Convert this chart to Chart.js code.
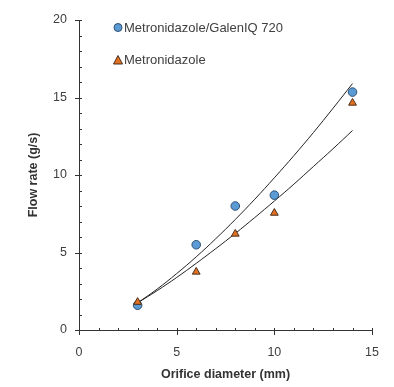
<!DOCTYPE html>
<html>
<head>
<meta charset="utf-8">
<script src="https://cdn.jsdelivr.net/npm/chart.js@4/dist/chart.umd.min.js"></script>
<style>
html,body{margin:0;padding:0;background:#fff;}
#wrap{width:394px;height:387px;position:relative;}
</style>
</head>
<body>
<div id="wrap"><canvas id="c" width="394" height="387"></canvas></div>
<script>
// Measured data
const diameters = [3, 6, 8, 10, 14];
const galenFlow = [1.6, 5.5, 8.0, 8.7, 15.35];
const metroFlow = [1.8, 3.75, 6.2, 7.55, 14.65];
// Fitted trend curves
const fitX = [3, 4, 5, 6, 7, 8, 9, 10, 11, 12, 13, 14];
const galenFit = [1.75, 2.64, 3.64, 4.72, 5.89, 7.13, 8.44, 9.82, 11.25, 12.74, 14.30, 15.9];
const metroFit = [1.75, 2.54, 3.39, 4.30, 5.25, 6.23, 7.26, 8.32, 9.41, 10.55, 11.69, 12.87];
// Axis ticks
const xTicks = [0, 5, 10, 15];
const yTicks = [0, 5, 10, 15, 20];
const seriesNames = ['Metronidazole/GalenIQ 720', 'Metronidazole'];

const toPts = (xs, ys) => xs.map((x, i) => ({x: x, y: ys[i]}));
const BLUE = '#5b9bd5', BLUE_B = '#2f4f70';
const ORANGE = '#e2701f', ORANGE_B = '#4a3020';
const AXIS = '#333333';
const FONT = 'Liberation Sans, Arial, sans-serif';

const tickPlugin = {
  id: 'ticks',
  afterDraw(chart) {
    const ctx = chart.ctx;
    const xs = chart.scales.x, ys = chart.scales.y;
    const x0 = xs.getPixelForValue(0), y0 = ys.getPixelForValue(0);
    ctx.save();
    ctx.strokeStyle = AXIS;
    ctx.lineWidth = 1;
    ctx.beginPath();
    ctx.moveTo(Math.round(x0) + 0.5, ys.getPixelForValue(20));
    ctx.lineTo(Math.round(x0) + 0.5, y0 + 0.5);
    ctx.moveTo(x0, Math.round(y0) + 0.5);
    ctx.lineTo(xs.getPixelForValue(15) + 0.5, Math.round(y0) + 0.5);
    for (let v = 0; v <= 20; v++) {
      const p = Math.round(ys.getPixelForValue(v)) + 0.5;
      const major = v % 5 === 0;
      ctx.moveTo(Math.round(x0) + (major ? -4 : 0), p);
      ctx.lineTo(Math.round(x0) + 3, p);
    }
    for (let v = 0; v <= 15; v++) {
      const p = Math.round(xs.getPixelForValue(v)) + 0.5;
      const major = v % 5 === 0;
      ctx.moveTo(p, Math.round(y0) + (major ? 5 : 1));
      ctx.lineTo(p, Math.round(y0) - 2);
    }
    ctx.stroke();
    ctx.restore();
  }
};

const legendPlugin = {
  id: 'customLegend',
  afterDraw(chart) {
    const ctx = chart.ctx;
    ctx.save();
    ctx.font = '13px ' + FONT;
    ctx.textBaseline = 'middle';
    ctx.textAlign = 'left';
    ctx.beginPath();
    ctx.arc(118, 27.5, 4, 0, Math.PI * 2);
    ctx.fillStyle = BLUE; ctx.fill();
    ctx.strokeStyle = BLUE_B; ctx.lineWidth = 1; ctx.stroke();
    ctx.fillStyle = '#404040';
    ctx.fillText(seriesNames[0], 124, 28);
    ctx.beginPath();
    ctx.moveTo(118, 55.5); ctx.lineTo(122.5, 64); ctx.lineTo(113.5, 64); ctx.closePath();
    ctx.fillStyle = ORANGE; ctx.fill();
    ctx.strokeStyle = ORANGE_B; ctx.stroke();
    ctx.fillStyle = '#404040';
    ctx.fillText(seriesNames[1], 124, 60);
    ctx.restore();
  }
};

new Chart(document.getElementById('c'), {
  type: 'scatter',
  data: {
    datasets: [
      {label: 'fit1', data: toPts(fitX, galenFit), showLine: true, pointRadius: 0, borderColor: '#222', borderWidth: 1, tension: 0.4, order: 3},
      {label: 'fit2', data: toPts(fitX, metroFit), showLine: true, pointRadius: 0, borderColor: '#222', borderWidth: 1, tension: 0.4, order: 3},
      {label: seriesNames[0], data: toPts(diameters, galenFlow), pointStyle: 'circle', pointRadius: 4.3, backgroundColor: BLUE, borderColor: BLUE_B, borderWidth: 1, order: 2},
      {label: seriesNames[1], data: toPts(diameters, metroFlow), pointStyle: 'triangle', pointRadius: 4.5, backgroundColor: ORANGE, borderColor: ORANGE_B, borderWidth: 1, order: 1}
    ]
  },
  options: {
    responsive: false,
    animation: false,
    devicePixelRatio: 1,
    layout: {padding: {left: 0, top: 20, right: 21, bottom: 0}},
    plugins: {legend: {display: false}, tooltip: {enabled: false}},
    scales: {
      x: {
        type: 'linear', min: 0, max: 15,
        grid: {display: false, drawTicks: false},
        border: {display: false},
        afterBuildTicks: s => { s.ticks = xTicks.map(v => ({value: v})); },
        afterFit: s => { s.height = 57; },
        ticks: {padding: 15, color: '#404040', font: {family: FONT, size: 12.5}},
        title: {display: true, text: 'Orifice diameter (mm)', color: '#333', font: {family: FONT, size: 12.5, weight: 'bold'}, padding: {bottom: 5, top: 0}}
      },
      y: {
        type: 'linear', min: 0, max: 20,
        grid: {display: false, drawTicks: false},
        border: {display: false},
        afterBuildTicks: s => { s.ticks = yTicks.map(v => ({value: v})); },
        afterFit: s => { s.width = 79; },
        ticks: {padding: 12, color: '#404040', font: {family: FONT, size: 12.5}},
        title: {display: true, text: 'Flow rate (g/s)', color: '#333', font: {family: FONT, size: 12.5, weight: 'bold'}, padding: {top: 26, bottom: 0}}
      }
    }
  },
  plugins: [tickPlugin, legendPlugin]
});
</script>
</body>
</html>
